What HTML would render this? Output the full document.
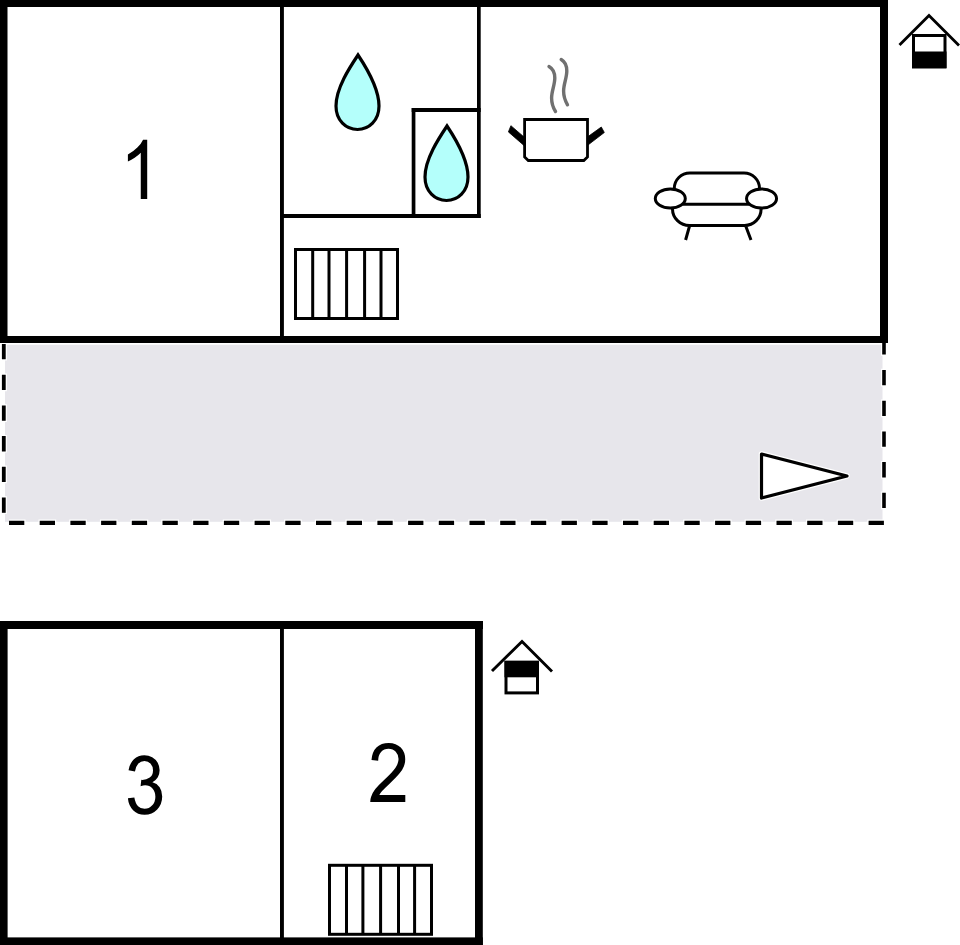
<!DOCTYPE html>
<html><head><meta charset="utf-8">
<style>
html,body{margin:0;padding:0;background:#fff;width:960px;height:945px;overflow:hidden}
svg{display:block}
body{font-family:"Liberation Sans",sans-serif}
</style></head>
<body>
<svg width="960" height="945" viewBox="0 0 960 945">
<rect width="960" height="945" fill="#fff"/>
<!-- terrace -->
<rect x="5" y="344.8" width="877.5" height="177" fill="#e7e6eb"/>
<g stroke="#fff" stroke-dasharray="17.7 13" stroke-dashoffset="1.2">
<line x1="3.8" y1="344" x2="3.8" y2="523" stroke-width="6.2"/>
<line x1="884" y1="339.3" x2="884" y2="523" stroke-width="6"/>
<line x1="9" y1="522.8" x2="885" y2="522.8" stroke-width="6.6"/>
</g>
<g stroke="#000" stroke-dasharray="15.3 15.4">
<line x1="3.8" y1="344" x2="3.8" y2="523" stroke-width="3.8"/>
<line x1="884" y1="339.3" x2="884" y2="523" stroke-width="3.6"/>
<line x1="9" y1="522.8" x2="885" y2="522.8" stroke-width="4.2"/>
</g>
<!-- top building walls -->
<rect x="0" y="0" width="888" height="7" fill="#000"/>
<rect x="0" y="0" width="7.5" height="343" fill="#000"/>
<rect x="880" y="0" width="8" height="343" fill="#000"/>
<rect x="0" y="336" width="888" height="7" fill="#000"/>
<rect x="280" y="0" width="3.9" height="340" fill="#000"/>
<rect x="477" y="0" width="3.7" height="218" fill="#000"/>
<rect x="280" y="214" width="200.7" height="4" fill="#000"/>
<rect x="411.7" y="108" width="3.7" height="110" fill="#000"/>
<rect x="411.7" y="108" width="69" height="4" fill="#000"/>
<!-- drops -->
<g fill="#b4fffb" stroke="#000" stroke-width="3.2" stroke-linejoin="miter" stroke-miterlimit="10">
<path d="M358,55 C350,67 336,88 336,106 C336,120.5 346,129.5 357.5,129.5 C369,129.5 379,120.5 379,106 C379,88 366,67 358,55 Z"/>
<path d="M447,126 C439,138 425,159 425,177 C425,191.5 435,200.5 446.5,200.5 C458,200.5 468,191.5 468,177 C468,159 455,138 447,126 Z"/>
</g>
<!-- radiator 1 -->
<g fill="none" stroke="#000" stroke-width="3">
<rect x="295.5" y="249.5" width="102" height="69"/>
<path d="M312.7,249.5V318.5M329,249.5V318.5M346.6,249.5V318.5M364.6,249.5V318.5M381,249.5V318.5"/>
</g>
<!-- pot -->
<g fill="#000" stroke="#000" stroke-width="0.8" stroke-linejoin="round">
<path d="M510.9,125.7 L524,137 L524,145.5 L508.4,131.9 Z"/>
<path d="M601.3,127 L604.3,132.5 L588,145 L588,136.6 Z"/>
</g>
<path d="M524.6,119.5 H587.5 V157 L583.8,160.5 H528.3 L524.6,157 Z" fill="#fff" stroke="#000" stroke-width="2.8" stroke-linejoin="miter"/>
<g fill="none" stroke="#707070" stroke-width="3.4" stroke-linecap="round">
<path d="M549,66.5 C552.5,68.5 554.8,72 554.8,78 C554.8,85 551.6,91 551.6,98 C551.6,103 553,107.5 555.5,111.5"/>
<path d="M561.2,59.5 C564.7,61.5 566.8,65 566.8,71 C566.8,78 563.6,84 563.6,91 C563.6,96 565,100.5 567.5,104.8"/>
</g>
<!-- sofa -->
<g fill="none" stroke="#000" stroke-width="3">
<path d="M674.3,189 V188.5 A15.5,15.5 0 0 1 689.8,173 H744 A15.5,15.5 0 0 1 759.5,188.5 V189"/>
<path d="M682.5,204.3 H749.5"/>
<path d="M672.5,209 A17,16.5 0 0 0 689.5,225.5 H744.6 A16.5,16.5 0 0 0 761.1,209"/>
<ellipse cx="670.3" cy="198.5" rx="15" ry="9.6" fill="#fff"/>
<ellipse cx="761.55" cy="198.5" rx="15" ry="9.6" fill="#fff"/>
<path d="M689.4,226.5 L685.6,240 M745.9,226.5 L751,240"/>
</g>
<!-- triangle -->
<path d="M761.5,454 L847,476 L761.5,498 Z" fill="none" stroke="#fff" stroke-width="5.6" stroke-linejoin="round"/>
<path d="M761.5,454 L847,476 L761.5,498 Z" fill="#fff" stroke="#000" stroke-width="3.2" stroke-linejoin="round"/>
<!-- house 1 -->
<g stroke="#000" stroke-width="3" fill="none">
<path stroke-width="2.8" d="M899.5,45 L929,15.5 L959,45.5"/>
<rect x="913.5" y="35.5" width="31.5" height="31.5" fill="#fff"/>
</g>
<rect x="912" y="51.5" width="34.5" height="16.5" fill="#000"/>
<!-- bottom building -->
<rect x="0" y="621" width="483" height="8" fill="#000"/>
<rect x="0" y="621" width="7.6" height="324" fill="#000"/>
<rect x="475" y="621" width="7.8" height="324" fill="#000"/>
<rect x="0" y="937.4" width="482.8" height="8" fill="#000"/>
<rect x="280" y="625" width="3.9" height="315" fill="#000"/>
<!-- house 2 -->
<g stroke="#000" stroke-width="3" fill="none">
<path stroke-width="2.9" d="M492,671 L522,641.5 L552,671.5"/>
<rect x="506" y="662.3" width="31.5" height="30.6" fill="#fff"/>
</g>
<rect x="504.5" y="660.8" width="34.5" height="16.5" fill="#000"/>
<!-- radiator 2 -->
<g fill="none" stroke="#000" stroke-width="3">
<rect x="329.5" y="865.3" width="102" height="69"/>
<path d="M346.5,865.3V934.3M362.9,865.3V934.3M380.6,865.3V934.3M398.5,865.3V934.3M414.6,865.3V934.3"/>
</g>
<!-- numbers -->
<g fill="#000">
<path d="M763 0H583V1147Q518 1085 412.5 1023Q307 961 223 930V1104Q374 1175 487 1276Q600 1377 647 1472H763Z" transform="translate(119.930,199) scale(0.03574,-0.04029)"/>
<path d="M86 387L266 411Q297 258 371.5 190.5Q446 123 553 123Q680 123 767.5 211Q855 299 855 429Q855 553 774 633.5Q693 714 568 714Q517 714 441 694L461 852Q479 850 490 850Q605 850 697 910Q789 970 789 1095Q789 1194 722 1259Q655 1324 549 1324Q444 1324 374 1258Q304 1192 284 1060L104 1092Q137 1273 254 1372.5Q371 1472 545 1472Q665 1472 766 1420.5Q867 1369 920.5 1280Q974 1191 974 1091Q974 996 923 918Q872 840 772 794Q902 764 974 669.5Q1046 575 1046 433Q1046 241 906 107.5Q766 -26 552 -26Q359 -26 231.5 89Q104 204 86 387Z" transform="translate(124.827,813.766) scale(0.03573,-0.03979)"/>
<path d="M1036 173V0H67Q65 65 88 125Q125 224 206.5 320Q288 416 442 542Q681 738 765 852.5Q849 967 849 1069Q849 1176 772.5 1249.5Q696 1323 573 1323Q443 1323 365 1245Q287 1167 286 1029L101 1048Q120 1255 244 1363.5Q368 1472 577 1472Q788 1472 911 1355Q1034 1238 1034 1065Q1034 977 998 892Q962 807 878.5 713Q795 619 601 455Q439 319 393 270.5Q347 222 317 173Z" transform="translate(367.850,801.9) scale(0.03615,-0.04008)"/>
</g>
</svg>
</body></html>
